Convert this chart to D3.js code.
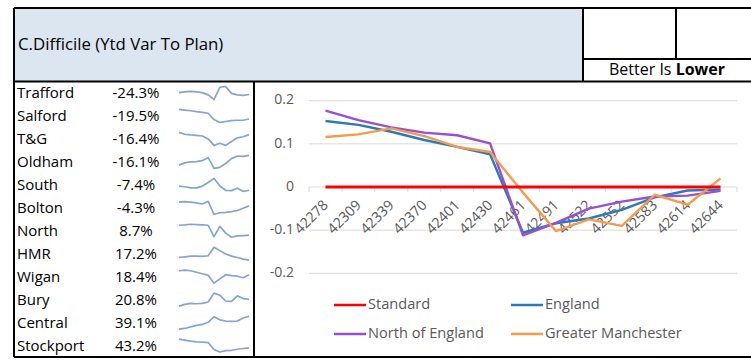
<!DOCTYPE html>
<html><head><meta charset="utf-8">
<script src="https://cdn.jsdelivr.net/npm/d3@7"></script>
<style>body{margin:0;background:#fff} svg{display:block}</style>
</head><body><svg id="c" width="751" height="361"></svg>
<script>
const title = "C.Difficile (Ytd Var To Plan)";
const noteText = "Better Is ";
const noteBold = "Lower";
const regions = ["Trafford","Salford","T&G","Oldham","South","Bolton","North","HMR","Wigan","Bury","Central","Stockport"];
const regionVar = ["-24.3%","-19.5%","-16.4%","-16.1%","-7.4%","-4.3%","8.7%","17.2%","18.4%","20.8%","39.1%","43.2%"];
const sparkTrafford = [0,.02,.03,.02,0,-.06,-.18,.14,.16,-.02,-.06,-.07,-.05];
const sparkSalford = [0,-.02,-.04,-.07,-.09,-.12,-.32,-.41,-.38,-.35,-.34,-.34,-.30];
const sparkTG = [0,-.05,-.07,-.08,-.10,-.18,-.36,-.30,-.36,-.25,-.15,-.12,-.06];
const sparkOldham = [0,.07,.10,.11,.14,.23,-.10,-.07,.05,.20,.28,.27,.30];
const sparkSouth = [0,-.02,-.05,-.05,0,.10,.22,0,-.12,-.13,-.06,-.15,-.12];
const sparkBolton = [0,.01,0,-.02,-.05,.02,-.32,-.28,-.27,-.25,-.22,-.16,-.10];
const sparkNorth = [0,.01,.03,.02,.01,0,-.33,-.03,-.23,-.35,-.31,-.30,-.29];
const sparkHMR = [0,.02,.04,.04,.03,.05,.30,.20,.10,.04,0,-.05,-.08];
const sparkWigan = [0,.02,0,-.05,-.10,-.15,-.41,-.27,-.13,-.16,-.18,-.23,-.13];
const sparkBury = [0,.05,.08,.07,.08,.12,.38,.32,.15,.14,.30,.22,.20];
const sparkCentral = [0,.02,.07,.12,.15,.22,.40,.30,.26,.25,.26,.36,.42];
const sparkStockport = [0,-.03,-.06,-.08,-.09,-.10,-.30,-.37,-.33,-.32,-.29,-.27,-.25];
const sparkData = [sparkTrafford,sparkSalford,sparkTG,sparkOldham,sparkSouth,sparkBolton,sparkNorth,sparkHMR,sparkWigan,sparkBury,sparkCentral,sparkStockport];

const months = ["42278","42309","42339","42370","42401","42430","42461","42491","42522","42552","42583","42614","42644"];
const seriesNames = ["Standard","England","North of England","Greater Manchester"];
const standard = [0,0,0,0,0,0,0,0,0,0,0,0,0];
const england = [0.153,0.144,0.128,0.109,0.093,0.076,-0.106,-0.084,-0.073,-0.053,-0.024,-0.008,-0.006];
const northEngland = [0.177,0.155,0.138,0.126,0.120,0.101,-0.112,-0.083,-0.050,-0.034,-0.022,-0.020,-0.009];
const greaterManchester = [0.116,0.122,0.136,0.118,0.093,0.081,-0.013,-0.102,-0.075,-0.090,-0.018,-0.041,0.020];
const yTicks = [-0.2,-0.1,0,0.1,0.2];
const seriesColors = ["#ff0000","#2a7ab9","#9a4ed2","#f79a4c"];

const svg = d3.select("#c");
const font = "'Open Sans', sans-serif";

// header
svg.append("rect").attr("x",14).attr("y",8).attr("width",569).attr("height",73.5).attr("fill","#dce6f1");
const lines = [
  [14,8,760,8],[14,81.5,760,81.5],[14,8,14,357],[583,8,583,81.5],[676,8,676,59],[583,59,760,59],
  [254,81.5,254,357],[14,357,760,357]
];
svg.append("g").selectAll("line").data(lines).join("line")
  .attr("x1",d=>d[0]).attr("y1",d=>d[1]).attr("x2",d=>d[2]).attr("y2",d=>d[3])
  .attr("stroke","#000").attr("stroke-width",2);
svg.append("text").attr("x",18).attr("y",45).attr("dominant-baseline","middle")
  .attr("font-family",font).attr("font-size",16.8).text(title);
const nt = svg.append("text").attr("x",667).attr("y",71).attr("text-anchor","middle").attr("dominant-baseline","middle")
  .attr("font-family",font).attr("font-size",16);
nt.append("tspan").text(noteText);
nt.append("tspan").attr("font-weight","bold").text(noteBold);

// table
const rowH = (357-81.5)/12;
const rowTop = i => 81.5 + i*rowH;
const tg = svg.append("g").attr("font-family",font).attr("font-size",15);
tg.selectAll("text.n").data(regions).join("text").attr("class","n")
  .attr("x",17).attr("y",(d,i)=>rowTop(i)+rowH/2+1).attr("dominant-baseline","middle").text(d=>d);
tg.selectAll("text.v").data(regionVar).join("text").attr("class","v")
  .attr("x",136).attr("y",(d,i)=>rowTop(i)+rowH/2+1).attr("text-anchor","middle").attr("dominant-baseline","middle").text(d=>d);
const sx = d3.scalePoint().domain(d3.range(13)).range([179,249]);
sparkData.forEach((arr,i)=>{
  const sy = d3.scaleLinear().domain(d3.extent(arr)).range([rowTop(i)+18, rowTop(i)+5]);
  svg.append("path").datum(arr).attr("fill","none").attr("stroke","#86a3d3").attr("stroke-width",1.7)
    .attr("stroke-linejoin","round")
    .attr("d", d3.line().x((d,j)=>sx(j)).y(d=>sy(d)));
});

// chart
const x = d3.scaleBand().domain(months).range([309,737]);
const y = d3.scaleLinear().domain([-0.2,0.2]).range([273.3,100.7]);
const cg = svg.append("g").attr("font-family",font).attr("fill","#595959");
cg.selectAll("line.g").data(yTicks).join("line").attr("class","g")
  .attr("x1",309).attr("x2",737).attr("y1",d=>y(d)).attr("y2",d=>y(d))
  .attr("stroke","#d9d9d9").attr("stroke-width",1);
cg.selectAll("text.y").data(yTicks).join("text").attr("class","y")
  .attr("x",294).attr("y",d=>y(d)).attr("text-anchor","end").attr("dominant-baseline","middle")
  .attr("font-size",14).text(d=>d===0?"0":String(d));
const edges = d3.range(14).map(i=>309 + i*x.step());
cg.selectAll("line.t").data(edges).join("line").attr("class","t")
  .attr("x1",d=>d).attr("x2",d=>d).attr("y1",y(0)).attr("y2",y(0)+5)
  .attr("stroke","#d9d9d9");
cg.selectAll("text.x").data(months).join("text").attr("class","x")
  .attr("transform",d=>`translate(${x(d)+x.bandwidth()/2+3.5},${y(0)+19}) rotate(-45)`)
  .attr("text-anchor","end").attr("font-size",14.2).text(d=>d);

const allSeries = [standard,england,northEngland,greaterManchester];
const line = d3.line().x((d,i)=>x(months[i])+x.bandwidth()/2).y(d=>y(d));
[1,2,3,0].forEach(k=>{
  svg.append("path").datum(allSeries[k]).attr("fill","none").attr("stroke",seriesColors[k])
    .attr("stroke-width",k===0?2.8:2.4).attr("stroke-linejoin","round").attr("d",line);
});

// legend
const legPos = [[334,305],[511,305],[334,334],[511,334]];
const lg = svg.append("g").attr("font-family",font).attr("font-size",14.6);
seriesNames.forEach((n,k)=>{
  const [lx,ly] = legPos[k];
  lg.append("line").attr("x1",lx).attr("x2",lx+32).attr("y1",ly).attr("y2",ly)
    .attr("stroke",seriesColors[k]).attr("stroke-width",2.5);
  lg.append("text").attr("x",lx+34).attr("y",ly).attr("dominant-baseline","middle")
    .attr("fill","#595959").text(n);
});
</script></body></html>
